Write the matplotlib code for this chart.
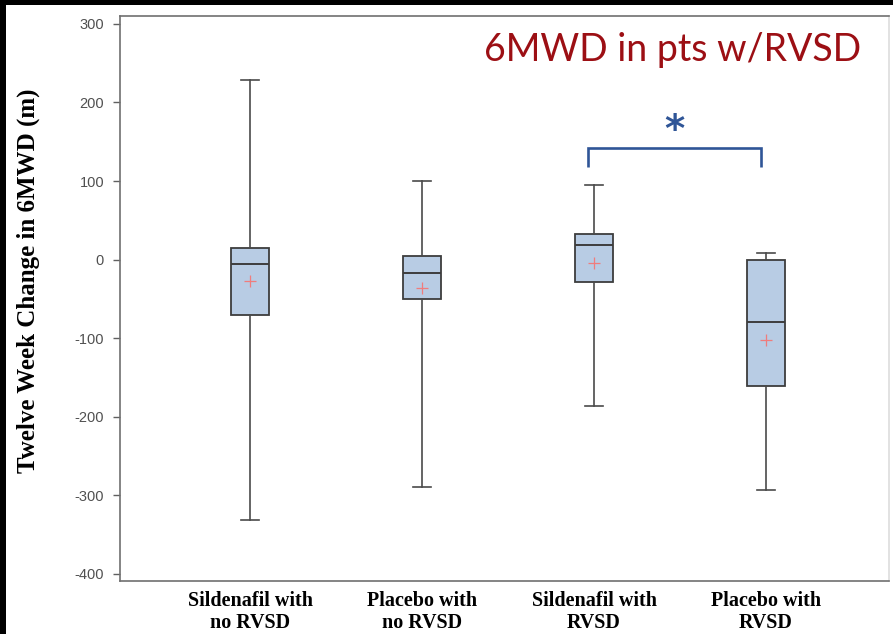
import matplotlib
matplotlib.use("Agg")
import matplotlib.pyplot as plt
from matplotlib.patches import Rectangle

# Values (metres)
groups = ["Sildenafil with\nno RVSD", "Placebo with\nno RVSD",
          "Sildenafil with\nRVSD", "Placebo with\nRVSD"]
whisker_lo = [-331, -290, -186, -293]
q1 = [-70, -50, -29, -161]
median = [-5, -17, 19, -79]
q3 = [15, 5, 32, 0]
whisker_hi = [229, 100, 95, 9]
mean = [-27, -36, -4, -102]
yticks = [-400, -300, -200, -100, 0, 100, 200, 300]

stats = [dict(label=g, whislo=lo, q1=a, med=m, q3=b, whishi=hi, mean=mu, fliers=[])
         for g, lo, a, m, b, hi, mu in zip(groups, whisker_lo, q1, median, q3, whisker_hi, mean)]

fig = plt.figure(figsize=(8.93, 6.34), dpi=100)
fig.patch.set_facecolor("black")
fig.add_artist(Rectangle((6 / 893, 0), 1, 1 - 5 / 634, transform=fig.transFigure,
                         facecolor="white", edgecolor="none", zorder=-10))
ax = fig.add_axes([120 / 893, 1 - 581 / 634, 769 / 893, 565 / 634])

edge = "#3d3d3d"
ax.bxp(stats, positions=[1, 2, 3, 4], widths=0.22, showmeans=True, patch_artist=True,
       boxprops=dict(facecolor="#b8cce4", edgecolor=edge, linewidth=1.3),
       medianprops=dict(color=edge, linewidth=1.4),
       whiskerprops=dict(color="#4a4a4a", linewidth=1.2),
       capprops=dict(color="#4a4a4a", linewidth=1.2),
       meanprops=dict(marker="+", markeredgecolor="#f07c7c", markersize=8, markeredgewidth=0.9))

ax.set_xlim(0.244, 4.715)
ax.set_ylim(-409, 310)
ax.set_yticks(yticks)
ax.set_yticklabels([str(v) for v in yticks], family="Liberation Sans", fontsize=10.5,
                   color="#505050")
ax.tick_params(axis="y", length=5, width=1.0, color="#606060", pad=6.5)
ax.tick_params(axis="x", length=0, pad=7)
for lab in ax.get_xticklabels():
    lab.set_family("Liberation Serif")
    lab.set_fontweight("bold")
    lab.set_fontsize(14.5)
    lab.set_linespacing(1.12)
for s in ax.spines.values():
    s.set_color("#707070")
    s.set_linewidth(1.2)
ax.spines["right"].set_color("#dddddd")

ax.set_ylabel("Twelve Week Change in 6MWD (m)", family="Liberation Serif",
              fontweight="bold", fontsize=18)
ax.yaxis.set_label_coords(-0.104, 0.531)

# significance bracket
blue = "#2f5597"
ax.plot([2.965, 2.965, 3.971, 3.971], [118, 142, 142, 118], color=blue, linewidth=1.9,
        solid_capstyle="butt", solid_joinstyle="miter")
ax.text(3.468, 164, "*", color=blue, fontsize=28, fontweight="bold",
        ha="center", va="center")

ax.text(0.719, 0.94, "6MWD in pts w/RVSD", transform=ax.transAxes, color="#9c0f14",
        family="Lato", fontsize=27, ha="center", va="center")

fig.savefig("out.png", dpi=100, facecolor=fig.get_facecolor())
